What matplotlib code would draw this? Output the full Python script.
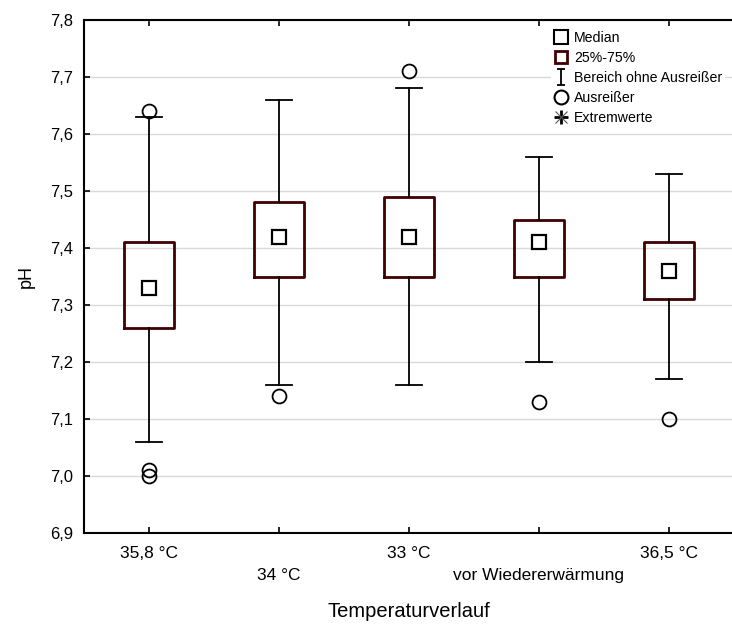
import matplotlib
matplotlib.use("Agg")
import matplotlib.pyplot as plt
from matplotlib.lines import Line2D
from matplotlib.path import Path

plt.rcParams['font.family'] = ['Liberation Sans', 'DejaVu Sans']

# data
categories = ['35,8 °C', '34 °C', '33 °C', 'vor Wiedererwärmung', '36,5 °C']
medians = [7.33, 7.42, 7.42, 7.41, 7.36]
q1 = [7.26, 7.35, 7.35, 7.35, 7.31]
q3 = [7.41, 7.48, 7.49, 7.45, 7.41]
whisk_lo = [7.06, 7.16, 7.16, 7.20, 7.17]
whisk_hi = [7.63, 7.66, 7.68, 7.56, 7.53]
outliers = [[7.64, 7.01, 7.00], [7.14], [7.71], [7.13], [7.10]]

maroon = '#3f0000'

fig = plt.figure(figsize=(7.32, 6.34), dpi=100)
ax = fig.add_axes([84 / 732, 1 - 533 / 634, 650 / 732, 513 / 634])

stats = []
for i in range(len(categories)):
    stats.append({
        'med': medians[i], 'q1': q1[i], 'q3': q3[i],
        'whislo': whisk_lo[i], 'whishi': whisk_hi[i],
        'fliers': outliers[i], 'label': categories[i],
    })

positions = list(range(len(categories)))
ax.bxp(stats, positions=positions, widths=0.39, capwidths=0.2,
       boxprops=dict(color=maroon, linewidth=2.0),
       whiskerprops=dict(color='black', linewidth=1.3),
       capprops=dict(color='black', linewidth=1.3),
       medianprops=dict(linewidth=0),
       flierprops=dict(marker='o', markersize=10, markerfacecolor='none',
                       markeredgecolor='black', markeredgewidth=1.3),
       zorder=3)
ax.plot(positions, medians, linestyle='none', marker='s', markersize=10,
        markerfacecolor='white', markeredgecolor='black', markeredgewidth=1.6,
        zorder=4)

ax.set_xlim(-0.5, len(categories) - 0.5)
ax.set_ylim(6.9, 7.8)
ax.set_yticks([6.9 + 0.1 * k for k in range(10)])
ax.set_yticklabels([f'{6.9 + 0.1 * k:.1f}'.replace('.', ',') for k in range(10)],
                   fontsize=12)
ax.set_xticks(positions)
ax.set_xticklabels([c if i % 2 == 0 else '\n' + c for i, c in enumerate(categories)],
                   fontsize=12.5, linespacing=1.6)
ax.tick_params(axis='x', direction='in', top=True, length=4, width=1.2, pad=9)
ax.tick_params(axis='y', direction='in', length=4, width=1.2, pad=8)
ax.grid(axis='y', color='#d9d9d9', linewidth=1)
ax.set_axisbelow(True)
for s in ax.spines.values():
    s.set_linewidth(1.5)

ax.set_ylabel('pH', fontsize=13, labelpad=11)
ax.set_xlabel('Temperaturverlauf', fontsize=14.5, labelpad=14)

# legend
ibeam = Path([(-0.5, 1), (0.5, 1), (0, 1), (0, -1), (-0.5, -1), (0.5, -1)],
             [Path.MOVETO, Path.LINETO, Path.MOVETO, Path.LINETO, Path.MOVETO, Path.LINETO])
h_med = Line2D([], [], linestyle='none', marker='s', markersize=10,
               markerfacecolor='white', markeredgecolor='black', markeredgewidth=1.5)
h_box = Line2D([], [], linestyle='none', marker='s', markersize=8,
               markerfacecolor='white', markeredgecolor=maroon, markeredgewidth=2)
h_rng = Line2D([], [], linestyle='none', marker=ibeam, markersize=11,
               markeredgecolor='black', markeredgewidth=1.3)
h_out = Line2D([], [], linestyle='none', marker='o', markersize=10,
               markerfacecolor='none', markeredgecolor='black', markeredgewidth=1.5)
h_ext1 = Line2D([], [], linestyle='none', marker='+', markersize=10,
                markeredgecolor='black', markeredgewidth=2)
h_ext2 = Line2D([], [], linestyle='none', marker='x', markersize=8,
                markeredgecolor='#555555', markeredgewidth=0.8)
leg = fig.legend([h_med, h_box, h_rng, h_out, (h_ext1, h_ext2)],
                 ['Median', '25%-75%', 'Bereich ohne Ausreißer', 'Ausreißer', 'Extremwerte'],
                 loc='upper left', bbox_to_anchor=(544 / 732, 1 - 21 / 634),
                 fontsize=10.2, frameon=True, framealpha=1, facecolor='white',
                 edgecolor='none', fancybox=False, borderpad=0.2,
                 handlelength=1.0, handletextpad=0.4, labelspacing=0.42)
leg.set_zorder(10)

fig.savefig('out.png', dpi=100)
